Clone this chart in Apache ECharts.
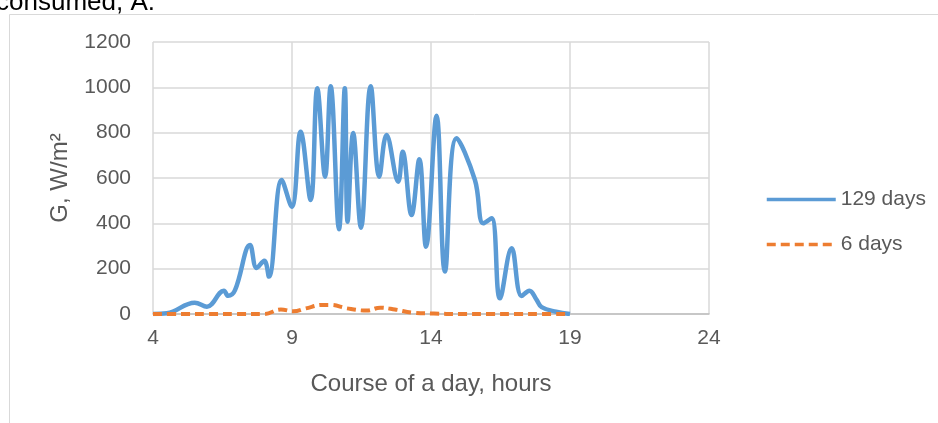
<!DOCTYPE html>
<html>
<head>
<meta charset="utf-8">
<script src="https://cdn.jsdelivr.net/npm/echarts@6/dist/echarts.min.js"></script>
<style>
html,body{margin:0;padding:0;background:#fff;}
#chart{width:938px;height:423px;}
</style>
</head>
<body>
<div id="chart"></div>
<script>
// Data
const hours129 = [4, 4.5, 5.5, 5.94, 6.55, 6.7, 6.95, 7.49, 7.73, 8.0, 8.17, 8.63, 8.99, 9.31, 9.67, 9.91, 10.19, 10.39, 10.69, 10.9, 11.0, 11.2, 11.48, 11.83, 12.14, 12.4, 12.82, 12.98, 13.3, 13.58, 13.82, 14.2, 14.5, 14.92, 15.58, 15.88, 16.18, 16.48, 16.9, 17.26, 17.54, 17.8, 17.98, 18.5, 19];
const values129 = [0, 3, 50, 32, 103, 80, 105, 304, 203, 235, 165, 591, 473, 804, 503, 996, 606, 1005, 374, 996, 407, 799, 381, 1005, 606, 790, 584, 716, 437, 683, 297, 875, 187, 775, 591, 400, 422, 69, 290, 79, 103, 62, 30, 10, 0];
const hours6 = [4, 5, 6, 7, 8, 8.6, 9.05, 9.5, 10.1, 10.4, 10.97, 11.69, 12.17, 12.7, 13.35, 14.1, 15, 16, 17, 18, 19];
const values6 = [0, 0, 0, 0, 0, 20, 12, 25, 40, 40, 25, 15, 28, 20, 6, 2, 0, 0, 0, 0, 0];
const xTicks = [4, 9, 14, 19, 24];
const seriesNames = ['129 days', '6 days'];

const pairs = (xs, ys) => xs.map((x, i) => [x, ys[i]]);
const textColor = '#595959';
const fontFamily = 'Liberation Sans, Arial, sans-serif';

const chart = echarts.init(document.getElementById('chart'), null, {renderer: 'canvas'});
chart.setOption({
  animation: false,
  backgroundColor: '#ffffff',
  grid: {left: 153, right: 229, top: 42, bottom: 109, containLabel: false},
  legend: {
    orient: 'vertical',
    left: 765,
    top: 189,
    padding: 0,
    itemWidth: 69,
    itemHeight: 20,
    itemGap: 24,
    data: seriesNames,
    itemStyle: {opacity: 0},
    lineStyle: {width: 3.5},
    textStyle: {color: textColor, fontSize: 21, fontFamily: fontFamily, padding: [0,0,0,0]}
  },
  xAxis: {
    type: 'value',
    min: 4,
    max: 24,
    interval: 5,
    name: 'Course of a day, hours',
    nameLocation: 'middle',
    nameGap: 58,
    nameTextStyle: {color: textColor, fontSize: 24, fontFamily: fontFamily},
    axisLine: {show: true, lineStyle: {color: '#BFBFBF', width: 1.5}},
    axisTick: {show: false},
    axisLabel: {color: textColor, fontSize: 21, fontFamily: fontFamily, margin: 14},
    splitLine: {show: true, lineStyle: {color: '#D9D9D9', width: 1.5}}
  },
  yAxis: {
    type: 'value',
    min: 0,
    max: 1200,
    interval: 200,
    name: 'G, W/m²',
    nameLocation: 'middle',
    nameGap: 81,
    nameTextStyle: {color: textColor, fontSize: 24, fontFamily: fontFamily},
    axisLine: {show: false},
    axisTick: {show: false},
    axisLabel: {color: textColor, fontSize: 21, fontFamily: fontFamily, margin: 22, formatter: v => String(v)},
    splitLine: {show: true, lineStyle: {color: '#D9D9D9', width: 1.5}}
  },
  series: [
    {
      name: seriesNames[0],
      type: 'line',
      data: pairs(hours129, values129),
      smooth: 0.4,
      symbol: 'none',
      lineStyle: {color: '#5B9BD5', width: 4.5},
      itemStyle: {color: '#5B9BD5'}
    },
    {
      name: seriesNames[1],
      type: 'line',
      data: pairs(hours6, values6),
      smooth: 0.4,
      symbol: 'none',
      lineStyle: {color: '#ED7D31', width: 4, type: [9, 5]},
      itemStyle: {color: '#ED7D31'}
    }
  ],
  graphic: [
    {type: 'rect', left: 7, top: 12, shape: {x: 0, y: 0, width: 940, height: 420}, style: {fill: 'none', stroke: '#D9D9D9', lineWidth: 1}, silent: true},
    {type: 'text', x: -4, y: -10, style: {text: 'consumed, A.', fontSize: 26, fontFamily: fontFamily, fill: '#000000', textVerticalAlign: 'top'}, silent: true}
  ]
});
</script>
</body>
</html>
